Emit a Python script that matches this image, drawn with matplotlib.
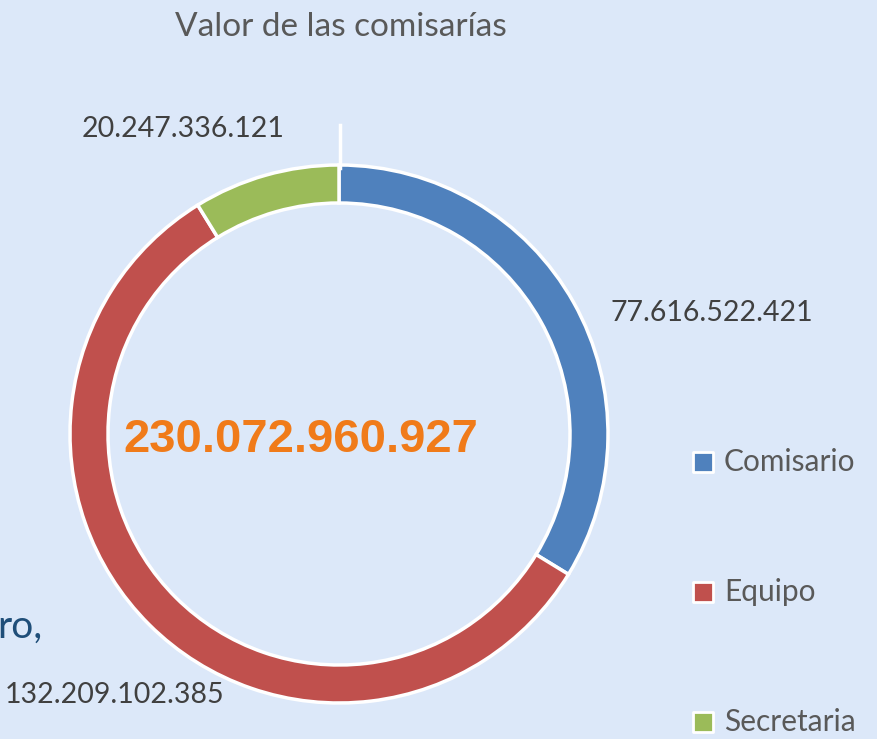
import matplotlib.pyplot as plt

# data
categories = ['Comisario', 'Equipo', 'Secretaria']
values = [77616522421, 132209102385, 20247336121]
value_labels = ['77.616.522.421', '132.209.102.385', '20.247.336.121']
total_label = '230.072.960.927'
colors = ['#4F81BD', '#C0504D', '#9BBB59']
bg = '#DCE8F9'

W, H = 877, 739
fig = plt.figure(figsize=(W / 100, H / 100), dpi=100, facecolor=bg)
ax = fig.add_axes([0, 0, 1, 1])
ax.set_facecolor(bg)

cx, cy, r = 339, H - 434, 269
ax.pie(values, colors=colors, startangle=90, counterclock=False,
       center=(cx, cy), radius=r, frame=True,
       wedgeprops=dict(width=38, edgecolor='white', linewidth=2.5))
ax.set_xlim(0, W)
ax.set_ylim(0, H)
ax.axis('off')

font = 'Lato'
# leader line for small slice
ax.plot([cx + 1, cx + 1], [H - 125, H - 168], color='white', lw=2.5)

label_pos = [(712, 313), (115, 695), (183, 129)]
for (x, y), lab in zip(label_pos, value_labels):
    ax.text(x, H - y, lab, ha='center', va='center', fontsize=20.5,
            color='#404040', family=font)

ax.text(301, H - 440, total_label, ha='center', va='center', fontsize=34,
        fontweight='bold', color='#F07B1A', family='Liberation Sans')

ax.text(341, H - 27, 'Valor de las comisarías', ha='center', va='center',
        fontsize=24, color='#595959', family=font)

# legend
leg_y = [462, 592, 722]
for c, lab, y in zip(colors, categories, leg_y):
    ax.scatter([703], [H - y], s=190, marker='s', color=c,
               edgecolors='white', linewidths=2, zorder=5)
    ax.text(724, H - y, lab, ha='left', va='center', fontsize=21.5,
            color='#595959', family=font)

ax.text(42, H - 627, 'ro,', ha='right', va='center', fontsize=28,
        color='#1F4E79', family=font)

fig.savefig('out.png', dpi=100, facecolor=bg)
